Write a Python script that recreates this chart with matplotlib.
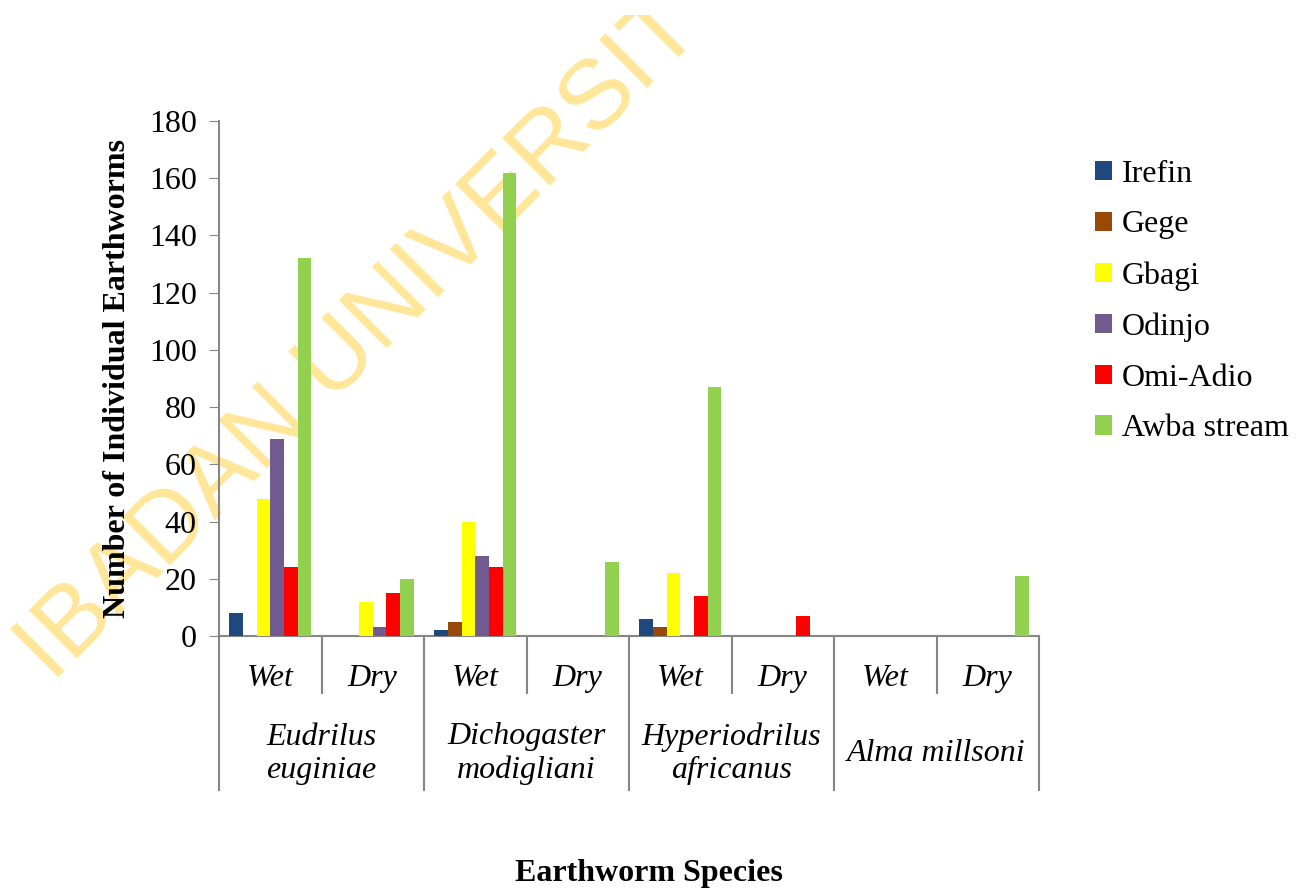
import matplotlib.pyplot as plt
import numpy as np
from matplotlib.transforms import Bbox, TransformedBbox

plt.rcParams['font.family'] = ['Liberation Serif', 'DejaVu Serif']

# data
species = ["Eudrilus\neuginiae", "Dichogaster\nmodigliani", "Hyperiodrilus\nafricanus", "Alma millsoni"]
seasons = ["Wet", "Dry", "Wet", "Dry", "Wet", "Dry", "Wet", "Dry"]
sites = ["Irefin", "Gege", "Gbagi", "Odinjo", "Omi-Adio", "Awba stream"]

irefin = [8, 0, 2, 0, 6, 0, 0, 0]
gege = [0, 0, 5, 0, 3, 0, 0, 0]
gbagi = [48, 12, 40, 0, 22, 0, 0, 0]
odinjo = [69, 3, 28, 0, 0, 0, 0, 0]
omi_adio = [24, 15, 24, 0, 14, 7, 0, 0]
awba = [132, 20, 162, 26, 87, 0, 0, 21]

series = [irefin, gege, gbagi, odinjo, omi_adio, awba]
colors = ["#1F497D", "#984807", "#FFFF00", "#715A8F", "#FF0000", "#92D050"]

fs = 23

fig = plt.figure(figsize=(13.04, 8.91), dpi=100)
ax = fig.add_axes([219/1304, 1-636/891, 820/1304, 515/891])

# watermark behind everything, cut off near the top edge
wm = fig.text(52/1304, 1-683/891, "IBADAN UNIVERSITY", family="Liberation Sans",
              fontsize=71, color="#FFE699", rotation=45, rotation_mode="anchor",
              ha="left", va="baseline", zorder=-1)
wm.set_clip_box(TransformedBbox(Bbox([[0, 0], [1, 1-15/891]]), fig.transFigure))
wm.set_clip_on(True)
ax.set_facecolor("none")

x = np.arange(len(seasons))
w = 0.8 / len(series)
for i, (vals, name) in enumerate(zip(series, sites)):
    ax.bar(x - 0.4 + w*(i+0.5), vals, width=w, color=colors[i], label=name, zorder=3)

ax.set_xlim(-0.5, 7.5)
ax.set_ylim(0, 180)
ax.set_yticks(range(0, 181, 20))
ax.tick_params(axis='y', labelsize=fs, length=7, color="#868686", direction='out', pad=9)
ax.set_xticks(x)
ax.set_xticklabels(seasons, fontsize=fs, style='italic')
ax.tick_params(axis='x', length=0, pad=20)

for s in ['top', 'right']:
    ax.spines[s].set_visible(False)
for s in ['left', 'bottom']:
    ax.spines[s].set_color("#868686")
    ax.spines[s].set_linewidth(1.5)

# multi-level category separators
tr = ax.get_xaxis_transform()
for b in np.arange(-0.5, 8, 1.0):
    if int(b + 0.5) % 2 == 0:
        ax.plot([b, b], [0, -0.299], transform=tr, color="#868686", lw=1.5, clip_on=False)
    else:
        ax.plot([b, b], [0, -0.111], transform=tr, color="#868686", lw=1.5, clip_on=False)

for j, sp in enumerate(species):
    ax.text(2*j + 0.5, -0.229, sp, transform=tr, ha='center', va='center',
            fontsize=fs, style='italic', linespacing=1.2)

fig.text(118/1304, 1-378/891, "Number of Individual Earthworms", rotation=90,
         ha='center', va='center', fontsize=fs, fontweight='bold')
fig.text(649/1304, 1-874/891, "Earthworm Species", ha='center', va='center',
         fontsize=fs, fontweight='bold')

ax.legend(loc='upper left', bbox_to_anchor=(1066/1304, 1-131/891), bbox_transform=fig.transFigure,
          frameon=False, fontsize=fs, handlelength=0.55, handleheight=0.55,
          handletextpad=0.3, labelspacing=0.68)

fig.savefig("out.png", dpi=100)
